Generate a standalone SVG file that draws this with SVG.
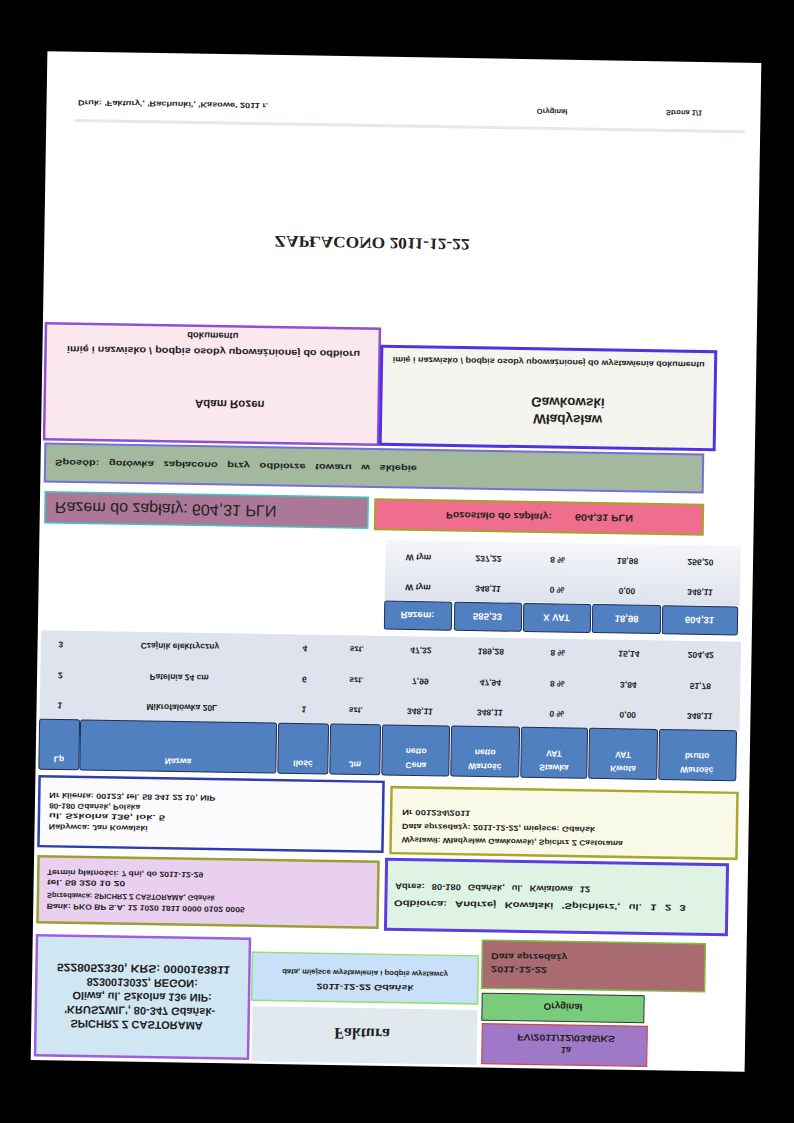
<svg xmlns="http://www.w3.org/2000/svg" width="794" height="1123" viewBox="0 0 794 1123">
<defs>
<style>
text{font-family:"Liberation Sans",Arial,sans-serif;fill:#222;font-weight:bold;dominant-baseline:central;transform-box:fill-box;transform-origin:center;transform:scaleY(-1)}
.c{text-anchor:middle}
.w{fill:#fff}
.t7{font-size:7.5px}
.t8{font-size:8.5px}
.t9{font-size:9.5px}
.hc{fill:#5080bf;stroke:#1d2c55;stroke-width:1}
.ser{font-family:"Liberation Serif","Times New Roman",serif}
</style>
<linearGradient id="sumg" x1="0" y1="0" x2="0" y2="1">
<stop offset="0" stop-color="#f5f6fa"/><stop offset="1" stop-color="#dde2ee"/>
</linearGradient>
</defs>
<rect width="794" height="1123" fill="#000"/>
<g id="page"><rect x="39" y="57" width="714" height="1009" fill="#fff" transform="rotate(0.95 396 562)"/></g>

<g id="footer" transform="rotate(0.95 400 110)">
<text x="78" y="108" class="t7" textLength="190" lengthAdjust="spacingAndGlyphs">Druk: 'Faktury', 'Rachunki', 'Kasowe' 2011 r.</text>
<text x="552" y="109" class="t7 c">Oryginał</text>
<text x="684" y="108" class="t7 c">Strona 1/1</text>
<line x1="75" y1="126" x2="745" y2="126" stroke="#ebe8e4" stroke-width="3"/>
</g>

<g id="zaplacono" transform="rotate(0.95 372 243)">
<text x="372" y="243" class="c ser" font-size="16" textLength="195" lengthAdjust="spacingAndGlyphs">ZAPŁACONO 2011-12-22</text>
</g>

<g id="odbiorca" transform="rotate(0.95 212 384)">
<rect x="45" y="326" width="334" height="116" fill="#fbe8ee" stroke="#8e4fd0" stroke-width="2.5"/>
<text x="212" y="336" class="t9 c">dokumentu</text>
<text x="213" y="352" class="t9 c" textLength="293" lengthAdjust="spacingAndGlyphs">imię i nazwisko / podpis osoby upoważnionej do odbioru</text>
<text x="230" y="404" class="c" font-size="11.5">Adam Rozen</text>
</g>

<g id="wystawca" transform="rotate(0.95 548 398)">
<rect x="381" y="349" width="334" height="98" fill="#f4f5ee" stroke="#5530e0" stroke-width="3"/>
<text x="548" y="362" class="c" font-size="8.2" textLength="312" lengthAdjust="spacingAndGlyphs">imię i nazwisko / podpis osoby upoważnionej do wystawienia dokumentu</text>
<text x="568" y="402" class="c" font-size="13.5">Gawkowski</text>
<text x="568" y="419" class="c" font-size="13.5">Władysław</text>
</g>

<g id="platnosc" transform="rotate(0.95 374 468)">
<rect x="45" y="449" width="658" height="38" fill="#a3b89c" stroke="#7070e0" stroke-width="2"/>
<text x="55" y="468" class="t8" word-spacing="5" textLength="362" lengthAdjust="spacingAndGlyphs">Sposób: gotówka  zapłacono  przy  odbiorze  towaru  w  sklepie</text>
</g>

<g id="razem" transform="rotate(0.95 207 510)">
<rect x="45" y="494.5" width="323" height="31" fill="#ab7898" stroke="#40c8c8" stroke-width="1.5"/>
<text x="55" y="510" font-size="16" fill="#2b2b2b" style="font-weight:normal">Razem do zapłaty: 604,31 PLN</text>
</g>

<g id="pozostalo" transform="rotate(0.95 539 517)">
<rect x="375" y="502" width="328" height="30" fill="#ef6e8e" stroke="#a6a22a" stroke-width="2"/>
<text x="446" y="517" class="t9" textLength="106" lengthAdjust="spacingAndGlyphs">Pozostało do zapłaty:</text>
<text x="575" y="517" class="t9" textLength="58" lengthAdjust="spacingAndGlyphs">604,31 PLN</text>
</g>

<g id="podsumowanie" transform="rotate(0.95 562 590)">
<rect x="385" y="543" width="355" height="60" fill="url(#sumg)"/>
<text x="418" y="560" class="t8 c">W tym</text><text x="488" y="560" class="t8 c">237,22</text><text x="557" y="560" class="t8 c">8 %</text><text x="627" y="560" class="t8 c">18,98</text><text x="700" y="560" class="t8 c">256,20</text>
<text x="418" y="590" class="t8 c">W tym</text><text x="488" y="590" class="t8 c">348,11</text><text x="557" y="590" class="t8 c">0 %</text><text x="627" y="590" class="t8 c">0,00</text><text x="700" y="590" class="t8 c">348,11</text>
<rect x="385" y="604" width="67" height="28" rx="2" class="hc"/>
<rect x="455" y="604" width="67" height="28" rx="2" class="hc"/>
<rect x="524" y="604" width="67" height="28" rx="2" class="hc"/>
<rect x="593" y="604" width="68" height="28" rx="2" class="hc"/>
<rect x="663" y="604" width="75" height="28" rx="2" class="hc"/>
<text x="418" y="618" class="t9 c w">Razem:</text>
<text x="488" y="618" class="t9 c w">585,33</text>
<text x="557" y="618" class="t9 c w">X VAT</text>
<text x="627" y="618" class="t9 c w">18,98</text>
<text x="700" y="618" class="t9 c w">604,31</text>
</g>

<g id="pozycje" transform="rotate(0.95 390 700)">
<rect x="40" y="636" width="700" height="89" fill="#dfe3ee"/>
<text x="60" y="650" class="t8 c">3</text><text x="179" y="650" class="t8 c">Czajnik elektryczny</text><text x="304" y="650" class="t8 c">4</text><text x="356" y="650" class="t8 c">szt.</text><text x="420" y="650" class="t8 c">47,32</text><text x="490" y="650" class="t8 c">189,28</text><text x="557" y="650" class="t8 c">8 %</text><text x="628" y="650" class="t8 c">15,14</text><text x="700" y="650" class="t8 c">204,42</text>
<text x="60" y="681" class="t8 c">2</text><text x="179" y="681" class="t8 c">Patelnia 24 cm</text><text x="304" y="681" class="t8 c">6</text><text x="356" y="681" class="t8 c">szt.</text><text x="420" y="681" class="t8 c">7,99</text><text x="490" y="681" class="t8 c">47,94</text><text x="557" y="681" class="t8 c">8 %</text><text x="628" y="681" class="t8 c">3,84</text><text x="700" y="681" class="t8 c">51,78</text>
<text x="60" y="711" class="t8 c">1</text><text x="182" y="711" class="t8 c">Mikrofalówka 20L</text><text x="304" y="711" class="t8 c">1</text><text x="356" y="711" class="t8 c">szt.</text><text x="420" y="711" class="t8 c">348,11</text><text x="490" y="711" class="t8 c">348,11</text><text x="557" y="711" class="t8 c">0 %</text><text x="628" y="711" class="t8 c">0,00</text><text x="700" y="711" class="t8 c">348,11</text>
<rect x="40" y="725" width="40" height="50" rx="2" class="hc"/>
<rect x="81" y="725" width="196" height="50" rx="2" class="hc"/>
<rect x="279" y="725" width="50" height="50" rx="2" class="hc"/>
<rect x="331" y="725" width="50" height="50" rx="2" class="hc"/>
<rect x="383" y="725" width="67" height="50" rx="2" class="hc"/>
<rect x="452" y="725" width="68" height="50" rx="2" class="hc"/>
<rect x="522" y="725" width="66" height="50" rx="2" class="hc"/>
<rect x="590" y="725" width="68" height="50" rx="2" class="hc"/>
<rect x="660" y="725" width="77" height="50" rx="2" class="hc"/>
<text x="60" y="765" class="t8 c w">Lp</text>
<text x="179" y="765" class="t8 c w">Nazwa</text>
<text x="304" y="765" class="t8 c w">Ilość</text>
<text x="356" y="765" class="t8 c w">Jm</text>
<text x="417" y="751" class="t8 c w">netto</text><text x="417" y="765" class="t8 c w">Cena</text>
<text x="486" y="751" class="t8 c w">netto</text><text x="486" y="765" class="t8 c w">Wartość</text>
<text x="555" y="751" class="t8 c w">VAT</text><text x="555" y="765" class="t8 c w">Stawka</text>
<text x="624" y="751" class="t8 c w">VAT</text><text x="624" y="765" class="t8 c w">Kwota</text>
<text x="698" y="751" class="t8 c w">brutto</text><text x="698" y="765" class="t8 c w">Wartość</text>
</g>

<g id="nabywca" transform="rotate(0.95 211 814)">
<rect x="39" y="779" width="344" height="70" fill="#fbfbfe" stroke="#2f3cb0" stroke-width="2.5"/>
<text x="49" y="798" class="t7" textLength="166" lengthAdjust="spacingAndGlyphs">Nr klienta: 00123, tel. 58 341 22 10, NIP</text>
<text x="49" y="808.5" class="t7" textLength="91" lengthAdjust="spacingAndGlyphs">80-180 Gdańsk, Polska</text>
<text x="49" y="818.5" class="t7" textLength="116" lengthAdjust="spacingAndGlyphs">ul. Szkolna 136, lok. 5</text>
<text x="49" y="829.5" class="t7" textLength="99" lengthAdjust="spacingAndGlyphs">Nabywca: Jan Kowalski</text>
</g>

<g id="dane-faktury" transform="rotate(0.95 564 823)">
<rect x="391" y="790" width="346" height="66" fill="#f8f9e6" stroke="#a8a82a" stroke-width="2.5"/>
<text x="402" y="815" class="t7" textLength="68" lengthAdjust="spacingAndGlyphs">Nr 001234/2011</text>
<text x="402" y="829" class="t7" textLength="193" lengthAdjust="spacingAndGlyphs">Data sprzedaży: 2011-12-22, miejsce: Gdańsk</text>
<text x="402" y="842.5" class="t7" textLength="221" lengthAdjust="spacingAndGlyphs">Wystawił: Władysław Gawkowski, Spichrz Z Castorama</text>
</g>

<g id="sprzedawca" transform="rotate(0.95 208 892)">
<rect x="38" y="859" width="340" height="66" fill="#ead0ef" stroke="#9ba030" stroke-width="2.5"/>
<text x="47" y="875" class="t7" textLength="156" lengthAdjust="spacingAndGlyphs">Termin płatności: 7 dni, do 2011-12-29</text>
<text x="47" y="885" class="t7" textLength="78" lengthAdjust="spacingAndGlyphs">tel. 58 320 10 20</text>
<text x="47" y="898" class="t7" textLength="168" lengthAdjust="spacingAndGlyphs">Sprzedawca: SPICHRZ Z CASTORAMA, Gdańsk</text>
<text x="47" y="909" class="t7" textLength="198" lengthAdjust="spacingAndGlyphs">Bank: PKO BP S.A. 12 1020 1811 0000 0102 0005</text>
</g>

<g id="adres" transform="rotate(0.95 556 897)">
<rect x="386" y="862" width="341" height="70" fill="#dff3e5" stroke="#5a3ee0" stroke-width="3"/>
<text x="395" y="889" class="t8" word-spacing="4" textLength="195" lengthAdjust="spacingAndGlyphs">Adres:  80-180  Gdańsk,  ul.  Kwiatowa  12</text>
<text x="394" y="906" class="t8" word-spacing="4" textLength="292" lengthAdjust="spacingAndGlyphs">Odbiorca:  Andrzej  Kowalski  'Spichlerz',  ul.  1  2  3</text>
</g>

<g id="firma" transform="rotate(0.95 142 997)">
<rect x="36" y="937" width="213" height="120" fill="#d0e6f3" stroke="#9f5ee0" stroke-width="2.5"/>
<text x="143" y="969" class="c" font-size="11" textLength="173" lengthAdjust="spacingAndGlyphs">5228052330, KRS: 0000163811</text>
<text x="142" y="983" class="c" font-size="11">8230013032, REGON:</text>
<text x="142" y="997" class="c" font-size="11">Oliwa, ul. Szkolna 13e NIP:</text>
<text x="140" y="1011" class="c" font-size="11">'KRUSZWIL', 80-347 Gdańsk-</text>
<text x="137" y="1025" class="c" font-size="11">SPICHRZ Z CASTORAMA</text>
</g>

<g id="data-miejsce" transform="rotate(0.95 365 978)">
<rect x="252" y="954" width="226" height="48" fill="#c9e1f8" stroke="#92e070" stroke-width="1.5"/>
<text x="365" y="973" class="c t7" textLength="166" lengthAdjust="spacingAndGlyphs">data, miejsce wystawienia i podpis wystawcy</text>
<text x="365" y="987" class="c" font-size="8" textLength="97" lengthAdjust="spacingAndGlyphs">2011-12-22 Gdańsk</text>
</g>

<g id="typ" transform="rotate(0.95 364 1036)">
<rect x="252" y="1008" width="225" height="55" fill="#dfe9ee"/>
<text x="362" y="1034" class="c ser" font-size="16">Faktura</text>
</g>

<g id="data-sprzedazy" transform="rotate(0.95 593 966)">
<rect x="482" y="942" width="223" height="48" fill="#a96a70" stroke="#7ec040" stroke-width="1.5"/>
<text x="491" y="958" class="t8" textLength="76" lengthAdjust="spacingAndGlyphs">Data sprzedaży</text>
<text x="491" y="971" class="t8" textLength="56" lengthAdjust="spacingAndGlyphs">2011-12-22</text>
</g>

<g id="oryginal" transform="rotate(0.95 563 1008)">
<rect x="482" y="994.5" width="162" height="27" fill="#78cc7a" stroke="#2a3a2a" stroke-width="1"/>
<text x="563" y="1007" class="c t9">Oryginał</text>
</g>

<g id="numer" transform="rotate(0.95 565 1045)">
<rect x="482" y="1025" width="165" height="40" fill="#a078c8" stroke="#d04848" stroke-width="1.2"/>
<text x="566" y="1038" class="c" font-size="9" textLength="98" lengthAdjust="spacingAndGlyphs">FV/2011/12/0345/KS</text>
<text x="566" y="1050" class="c" font-size="9">1a</text>
</g>
</svg>
